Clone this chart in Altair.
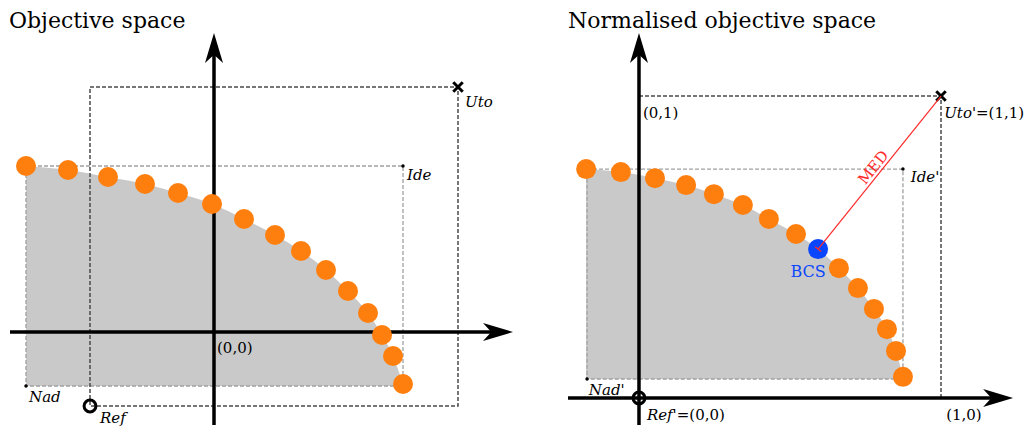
import altair as alt
import pandas as pd

# ---------------- data ----------------
# Left panel: objective space (1 unit = 100 px)
left_front_x = [-1.88, -1.46, -1.06, -0.69, -0.36, -0.02, 0.30, 0.61, 0.87, 1.12, 1.34, 1.54, 1.68, 1.79, 1.89]
left_front_y = [1.66, 1.62, 1.55, 1.48, 1.39, 1.28, 1.13, 0.97, 0.81, 0.62, 0.41, 0.19, -0.03, -0.24, -0.52]
left_ide = (1.89, 1.66)
left_nad = (-1.88, -0.54)
left_uto = (2.44, 2.45)
left_ref = (-1.24, -0.74)
left_xdomain = [-2.06, 3.14]
left_ydomain = [-0.93, 3.24]
left_axis_h = (-2.04, 2.84)   # x from, arrow centre
left_axis_v = (-0.93, 2.84)   # y from, arrow centre

# Right panel: normalised objective space
right_front_x = [-0.175, -0.060, 0.053, 0.156, 0.248, 0.344, 0.430, 0.520, 0.593, 0.662, 0.725, 0.778, 0.821, 0.851, 0.874]
right_front_y = [0.758, 0.748, 0.728, 0.705, 0.675, 0.639, 0.593, 0.543, 0.493, 0.430, 0.364, 0.295, 0.228, 0.156, 0.070]
bcs_index = 8
right_ide = (0.874, 0.758)
right_nad = (-0.172, 0.063)
right_uto = (1.0, 1.0)
right_ref = (0.0, 0.0)
right_xdomain = [-0.3675, 1.2781]
right_ydomain = [-0.0894, 1.2914]
right_axis_h = (-0.235, 1.189)
right_axis_v = (-0.0894, 1.159)

# labels: (text, x, y)
left_titles = [("Objective space", -2.05, 3.04)]
left_roman = [("(0,0)", 0.03, -0.21)]
left_italic = [("Uto", 2.51, 2.25), ("Ide", 1.93, 1.52), ("Nad", -1.85, -0.70), ("Ref", -1.14, -0.91)]

right_titles = [("Normalised objective space", -0.235, 1.2252)]
right_roman = [("(0,1)", 0.013, 0.927), ("=(1,1)", 1.116, 0.927), ("=(0,0)", 0.125, -0.073), ("(1,0)", 1.017, -0.073)]
right_italic_left = [("Ide'", 0.90, 0.715), ("Nad'", -0.166, 0.01)]
right_italic_right = [("Uto'", 1.116, 0.927), ("Ref'", 0.125, -0.073)]
bcs_label = ("BCS", 0.56, 0.40)
med_label = "MED"

ORANGE = "#ff7f0e"
BLUE = "#0a46ff"
RED = "#ff2a2a"
FILL = "#c9c9c9"
FONT = "DejaVu Serif"
LABEL_SIZE = 15

STEALTH_UP = "M0,-1 L0.6,1 L0,0.45 L-0.6,1 Z"
STEALTH_RIGHT = "M1,0 L-1,-0.6 L-0.45,0 L-1,0.6 Z"
CROSS = "M-1,-1 L1,1 M-1,1 L1,-1"


def lab_df(rows):
    return pd.DataFrame(rows, columns=["text", "x", "y"])


def panel(fx, fy, ide, nad, uto, ref, xdom, ydom, ax_h, ax_v, W, H,
          titles, roman, italic_left, italic_right=None, bcs=None):
    xs = alt.Scale(domain=xdom, nice=False, zero=False)
    ys = alt.Scale(domain=ydom, nice=False, zero=False)
    X = lambda f="x": alt.X(f"{f}:Q", scale=xs, axis=None)
    Y = lambda f="y": alt.Y(f"{f}:Q", scale=ys, axis=None)

    front = pd.DataFrame({"x": fx, "y": fy, "y0": [nad[1]] * len(fx)})
    layers = []
    layers.append(alt.Chart(front).mark_area(color=FILL, interpolate="monotone")
                  .encode(x=X(), y=Y(), y2=alt.Y2("y0:Q")))
    box_in = pd.DataFrame({"x": [nad[0]], "x2": [ide[0]], "y": [nad[1]], "y2": [ide[1]]})
    layers.append(alt.Chart(box_in).mark_rect(fillOpacity=0, stroke="#a0a0a0", strokeWidth=1.3,
                                              strokeDash=[4, 2])
                  .encode(x=X(), x2="x2:Q", y=Y(), y2="y2:Q"))
    box_out = pd.DataFrame({"x": [ref[0]], "x2": [uto[0]], "y": [ref[1]], "y2": [uto[1]]})
    layers.append(alt.Chart(box_out).mark_rect(fillOpacity=0, stroke="#4a4a4a", strokeWidth=1.5,
                                               strokeDash=[4, 2])
                  .encode(x=X(), x2="x2:Q", y=Y(), y2="y2:Q"))
    axh = pd.DataFrame({"x": [ax_h[0]], "x2": [ax_h[1]], "y": [0.0]})
    axv = pd.DataFrame({"x": [0.0], "y": [ax_v[0]], "y2": [ax_v[1]]})
    layers.append(alt.Chart(axh).mark_rule(color="black", strokeWidth=3.5)
                  .encode(x=X(), x2="x2:Q", y=Y()))
    layers.append(alt.Chart(axv).mark_rule(color="black", strokeWidth=3.5)
                  .encode(x=X(), y=Y(), y2="y2:Q"))
    layers.append(alt.Chart(pd.DataFrame({"x": [ax_h[1]], "y": [0.0]}))
                  .mark_point(shape=STEALTH_RIGHT, filled=True, color="black", size=900, opacity=1)
                  .encode(x=X(), y=Y()))
    layers.append(alt.Chart(pd.DataFrame({"x": [0.0], "y": [ax_v[1]]}))
                  .mark_point(shape=STEALTH_UP, filled=True, color="black", size=900, opacity=1)
                  .encode(x=X(), y=Y()))
    layers.append(alt.Chart(pd.DataFrame({"x": [ref[0]], "y": [ref[1]]}))
                  .mark_point(shape="circle", filled=False, color="black", strokeWidth=3, size=140, opacity=1)
                  .encode(x=X(), y=Y()))
    layers.append(alt.Chart(pd.DataFrame({"x": [uto[0]], "y": [uto[1]]}))
                  .mark_point(shape=CROSS, filled=False, color="black", strokeWidth=3, size=90, opacity=1)
                  .encode(x=X(), y=Y()))
    layers.append(alt.Chart(pd.DataFrame({"x": [ide[0], nad[0]], "y": [ide[1], nad[1]]}))
                  .mark_circle(color="black", size=12, opacity=1)
                  .encode(x=X(), y=Y()))
    pts = front if bcs is None else front.drop(index=bcs)
    layers.append(alt.Chart(pts).mark_circle(color=ORANGE, size=400, opacity=1)
                  .encode(x=X(), y=Y()))
    if bcs is not None:
        b = pd.DataFrame({"x": [fx[bcs]], "y": [fy[bcs]], "x2": [uto[0]], "y2": [uto[1]]})
        layers.append(alt.Chart(b).mark_circle(color=BLUE, size=400, opacity=1)
                      .encode(x=X(), y=Y()))
        layers.append(alt.Chart(b).mark_rule(color=RED, strokeWidth=1.2)
                      .encode(x=X(), y=Y(), x2="x2:Q", y2="y2:Q"))
        layers.append(alt.Chart(b).mark_point(shape="stroke", color=RED, strokeWidth=1.2, size=60,
                                              angle=39, filled=False, opacity=1)
                      .encode(x=X(), y=Y()))
        mid = pd.DataFrame({"text": [med_label], "x": [(fx[bcs] + uto[0]) / 2], "y": [(fy[bcs] + uto[1]) / 2]})
        layers.append(alt.Chart(mid).mark_text(font=FONT, fontSize=15, color=RED, angle=309,
                                               align="center", baseline="alphabetic", dy=-3)
                      .encode(x=X(), y=Y(), text="text:N"))
        layers.append(alt.Chart(lab_df([bcs_label])).mark_text(font=FONT, fontSize=16, color=BLUE,
                                                               align="center", baseline="alphabetic")
                      .encode(x=X(), y=Y(), text="text:N"))
    layers.append(alt.Chart(lab_df(titles)).mark_text(font=FONT, fontSize=22, color="black",
                                                      align="left", baseline="alphabetic")
                  .encode(x=X(), y=Y(), text="text:N"))
    layers.append(alt.Chart(lab_df(roman)).mark_text(font=FONT, fontSize=LABEL_SIZE, color="black",
                                                     align="left", baseline="alphabetic")
                  .encode(x=X(), y=Y(), text="text:N"))
    layers.append(alt.Chart(lab_df(italic_left)).mark_text(font=FONT, fontSize=LABEL_SIZE, fontStyle="italic",
                                                           color="black", align="left", baseline="alphabetic")
                  .encode(x=X(), y=Y(), text="text:N"))
    if italic_right:
        layers.append(alt.Chart(lab_df(italic_right)).mark_text(font=FONT, fontSize=LABEL_SIZE, fontStyle="italic",
                                                                color="black", align="right",
                                                                baseline="alphabetic")
                      .encode(x=X(), y=Y(), text="text:N"))
    return alt.layer(*layers).properties(width=W, height=H)


left = panel(left_front_x, left_front_y, left_ide, left_nad, left_uto, left_ref,
             left_xdomain, left_ydomain, left_axis_h, left_axis_v, 520, 417,
             left_titles, left_roman, left_italic)
right = panel(right_front_x, right_front_y, right_ide, right_nad, right_uto, right_ref,
              right_xdomain, right_ydomain, right_axis_h, right_axis_v, 497, 417,
              right_titles, right_roman, right_italic_left, right_italic_right, bcs=bcs_index)

chart = (alt.hconcat(left, right, spacing=0, bounds="flush")
         .properties(padding=0)
         .configure_view(stroke=None))

chart.save("out.html", embed_options={"renderer": "svg", "actions": False})
